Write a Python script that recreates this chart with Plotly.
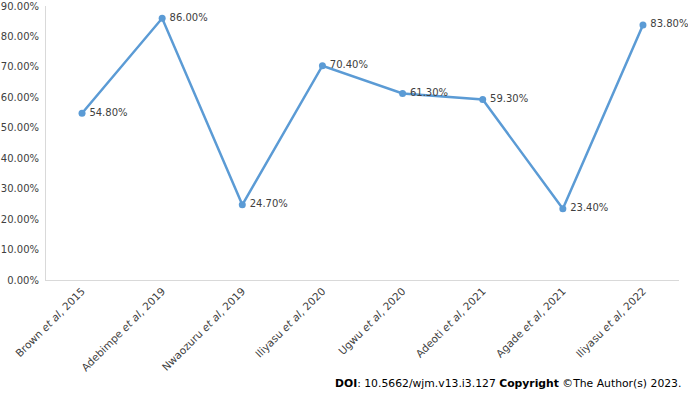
import plotly.graph_objects as go

studies = ["Brown <i>et al</i>, 2015", "Adebimpe <i>et al</i>, 2019", "Nwaozuru <i>et al</i>, 2019",
           "Iliyasu <i>et al</i>, 2020", "Ugwu <i>et al</i>, 2020", "Adeoti <i>et al</i>, 2021",
           "Agade <i>et al</i>, 2021", "Iliyasu <i>et al</i>, 2022"]
values = [0.548, 0.86, 0.247, 0.704, 0.613, 0.593, 0.234, 0.838]
labels = ["54.80%", "86.00%", "24.70%", "70.40%", "61.30%", "59.30%", "23.40%", "83.80%"]
yticks = [0, 0.1, 0.2, 0.3, 0.4, 0.5, 0.6, 0.7, 0.8, 0.9]

font = "DejaVu Sans, Verdana, sans-serif"

fig = go.Figure(go.Scatter(
    x=studies, y=values, mode="lines+markers+text",
    text=["\u2009" + t for t in labels], textposition="middle right",
    textfont=dict(family=font, size=10, color="#404040"),
    line=dict(color="#5B9BD5", width=2.5),
    marker=dict(color="#5B9BD5", size=7),
    cliponaxis=False,
))

fig.update_layout(
    width=688, height=395,
    margin=dict(l=46, r=9, t=6, b=115),
    paper_bgcolor="white", plot_bgcolor="white",
    showlegend=False,
    font=dict(family=font, size=10.5, color="#404040"),
    xaxis=dict(tickangle=-45, showgrid=False, showline=True, linecolor="#D9D9D9",
               linewidth=1, ticks="", automargin=False,
               tickfont=dict(size=10.5, color="#404040")),
    yaxis=dict(range=[0, 0.9002], tickvals=yticks, tickformat=".2%", showgrid=False,
               showline=True, linecolor="#D9D9D9", linewidth=1, zeroline=False,
               ticks="", automargin=False, ticklabelstandoff=4,
               tickfont=dict(size=10, color="#404040")),
    annotations=[dict(
        text="<b>DOI</b>: 10.5662/wjm.v13.i3.127 <b>Copyright</b> ©The Author(s) 2023.",
        xref="paper", yref="paper", x=1.006, y=-0.376, xanchor="right", yanchor="middle",
        showarrow=False, font=dict(family=font, size=10.8, color="#000000"))],
)

fig.write_html("out.html", config={"displayModeBar": False},
               post_script="document.body.style.margin='0';document.body.style.overflow='hidden';")
